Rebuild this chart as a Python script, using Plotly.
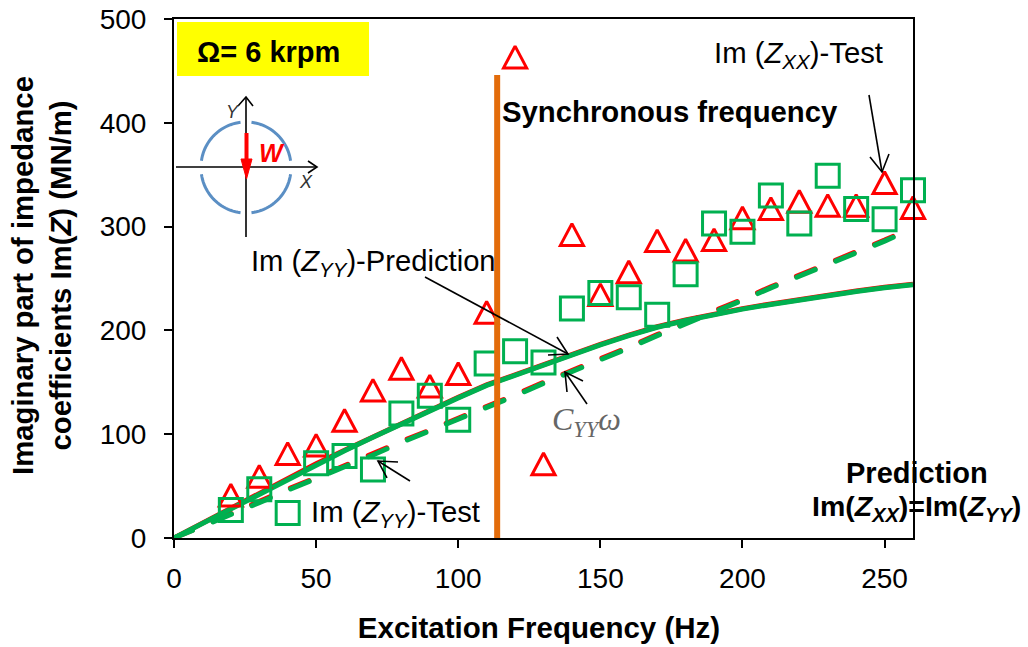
import numpy as np
import plotly.graph_objects as go

W, H = 1028, 647
L, R, T, B = 174, 913, 19, 538

freq = list(range(20, 261, 10))
zxx_test = [40, 58, 80, 88, 112, 141, 162, 145, 157, 216, 462, 70, 291, 233, 255, 285, 276, 286, 307, 316, 323, 319, 319, 341, 317]
zyy_test = [27, 47, 24, 72, 79, 66, 120, 137, 114, 168, 180, 169, 221, 236, 232, 215, 254, 303, 295, 330, 303, 349, 317, 307, 335]
freq_line = list(range(0, 261, 10))
pred_yy = [0, 14, 28, 42, 57, 71, 84, 97, 110, 123, 135, 147, 157, 167, 177, 186, 195, 203, 209.5, 215.5, 220.5, 225, 229.5, 233.5, 237.5, 241, 244]
pred_xx = [0, 14.5, 28.5, 42.5, 57.5, 71.5, 84.5, 97.5, 110.5, 123.5, 135.5, 147.5, 157.5, 167.5, 177.5, 186.5, 195.5, 203.5, 210, 216, 221, 225.5, 230, 234, 238, 241.5, 244.5]
c_yy = [0, 11, 23, 34, 46, 57, 69, 80, 92, 103, 114, 126, 137, 149, 160, 172, 183, 195, 206, 218, 229, 241, 252, 263, 275, 286, 298]
c_xx = [0, 12, 24, 35, 47, 58, 70, 81, 93, 104, 115, 127, 138, 150, 161, 173, 184, 196, 207, 219, 230, 242, 253, 264, 276, 287, 299]
sync_x = [113.7, 113.7]
sync_y = [-8, 446]
x_ticks = [0, 50, 100, 150, 200, 250]
y_ticks = [0, 100, 200, 300, 400, 500]

RED, GREEN, ORANGE, BLUE = "#ff0000", "#00b050", "#e36c0a", "#5b8fc4"
FONT = "Liberation Sans"
PW, PH = R - L, B - T
DASH = "20px,22.2px"


def px(x):
    return (x - L) / PW


def py(y):
    return (B - y) / PH


def poly(points, color="#000000", width=1.6, fill=None):
    path = "M " + " L ".join(f"{px(a):.5f} {py(b):.5f}" for a, b in points)
    if fill:
        path += " Z"
    return dict(type="path", xref="paper", yref="paper", path=path, layer="above",
                line=dict(color=color, width=width), fillcolor=fill)


def arrow(tail, tip, barb1, barb2):
    return [poly([tail, tip]), poly([barb1, tip, barb2])]


def arc(a0, a1, cx=246, cy=167, r=45):
    t = np.radians(np.linspace(a0, a1, 24))
    return poly(list(zip(cx + r * np.cos(t), cy - r * np.sin(t))), color=BLUE, width=3)


fig = go.Figure()
fig.add_trace(go.Scatter(x=freq_line, y=c_xx, mode="lines", line=dict(color=RED, width=5, dash=DASH), name="Cxx"))
fig.add_trace(go.Scatter(x=freq_line, y=pred_xx, mode="lines", line=dict(color=RED, width=5), name="Prediction XX"))
fig.add_trace(go.Scatter(x=freq_line, y=c_yy, mode="lines", line=dict(color=GREEN, width=5, dash=DASH), name="Cyy"))
fig.add_trace(go.Scatter(x=freq_line, y=pred_yy, mode="lines", line=dict(color=GREEN, width=5), name="Prediction YY"))
fig.add_trace(go.Scatter(x=freq, y=zxx_test, mode="markers", cliponaxis=False, name="Test XX",
                         marker=dict(symbol="triangle-up-open", size=20, color=RED, line=dict(color=RED, width=3))))
fig.add_trace(go.Scatter(x=freq, y=zyy_test, mode="markers", cliponaxis=False, name="Test YY",
                         marker=dict(symbol="square-open", size=23, color=GREEN, line=dict(color=GREEN, width=3))))
fig.add_trace(go.Scatter(x=sync_x, y=sync_y, mode="lines", cliponaxis=False, line=dict(color=ORANGE, width=6), name="Synchronous"))

shapes = [dict(type="rect", xref="paper", yref="paper", x0=px(177), x1=px(369), y0=py(76), y1=py(22),
               fillcolor="#ffff00", line=dict(width=0), layer="above")]
shapes += arrow((869, 95), (882, 172), (870, 157), (889, 154))
shapes += arrow((425, 277), (568, 354), (557, 337), (548, 355))
shapes += arrow((587, 404), (565, 372), (583, 381), (567, 392))
shapes += arrow((410, 481), (378, 461), (398, 462), (387, 478))
shapes += [arc(97, 172), arc(8, 83), arc(-172, -97, cy=168), arc(-83, -8, cy=168)]
shapes += arrow((246, 237), (246, 97), (238, 106), (253, 106))
shapes += arrow((176, 167), (317, 167), (308, 161), (308, 173))
shapes += [poly([(246.5, 133), (246.5, 160)], color=RED, width=4),
           poly([(241, 159), (252, 159), (246.5, 179)], color=RED, width=1, fill=RED)]


def note(x, y, text, size=29, color="#000000", anchor="left", family=FONT):
    return dict(xref="paper", yref="paper", x=px(x), y=py(y), text=text, showarrow=False, xanchor=anchor,
                yanchor="middle", align="center", font=dict(family=family, size=size, color=color))


annotations = [
    note(195, 52, "<b>Ω= 6 krpm</b>", 29),
    note(500, 112, "<b>Synchronous frequency</b>", 29.3),
    note(712, 55, "Im (<i>Z<sub>XX</sub></i>)-Test", 29.3),
    note(249, 263, "Im (<i>Z<sub>YY</sub></i>)-Prediction", 29.2),
    note(309, 513, "Im (<i>Z<sub>YY</sub></i>)-Test", 29.3),
    note(917, 473, "<b>Prediction</b>", 29, anchor="center"),
    note(810, 508, "<b>Im(<i>Z<sub>XX</sub></i>)=Im(<i>Z<sub>YY</sub></i>)</b>", 28.5),
    note(550, 421, "<i>C<sub>YY</sub>ω</i>", 32, color="#666666", family="Liberation Serif"),
    note(233, 112, "<i>Y</i>", 18, color="#333333", anchor="center"),
    note(306, 182, "<i>X</i>", 18, color="#333333", anchor="center"),
    note(272, 153, "<b><i>W</i></b>", 25, color=RED, anchor="center"),
]

axis = dict(showgrid=False, zeroline=False, showline=True, mirror=True, linecolor="#000000", linewidth=2,
            ticks="outside", ticklen=8, tickwidth=1.5, tickcolor="#000000", automargin=False,
            ticklabeloverflow="allow", tickfont=dict(family=FONT, size=28, color="#000000"))
fig.update_layout(
    width=W, height=H, margin=dict(l=L, r=W - R, t=T, b=H - B), showlegend=False,
    plot_bgcolor="#ffffff", paper_bgcolor="#ffffff", shapes=shapes, annotations=annotations,
    xaxis=dict(axis, range=[0, 260], tickvals=x_ticks, ticklabelstandoff=6,
               title=dict(text="<b>Excitation Frequency (Hz)</b>", standoff=25,
                          font=dict(family=FONT, size=29.5, color="#000000"))),
    yaxis=dict(axis, range=[0, 500], tickvals=y_ticks, ticklabelstandoff=12,
               title=dict(text="<b>Imaginary part of impedance<br>coefficients Im(<i>Z</i>) (MN/m)</b>", standoff=19,
                          font=dict(family=FONT, size=29.3, color="#000000"))),
)
# Page margin off; triangles stretched to the reference's almost equilateral proportions;
# rounded dash ends; axis titles nudged off the centre of the plot as in the reference.
finish = """
document.body.style.margin = '0';
document.querySelectorAll('.scatterlayer .trace:nth-child(5) .points path').forEach(function (p) {
  p.setAttribute('transform', p.getAttribute('transform') + ' translate(0,2.2) scale(1,1.45)');
  p.style.vectorEffect = 'non-scaling-stroke';
});
document.querySelectorAll('.scatterlayer .trace:nth-child(1) path.js-line, .scatterlayer .trace:nth-child(3) path.js-line').forEach(function (p) {
  p.style.strokeLinecap = 'round';
});
var nudge = function (sel, dx, dy) {
  document.querySelectorAll(sel).forEach(function (t) {
    t.setAttribute('transform', 'translate(' + dx + ',' + dy + ') ' + (t.getAttribute('transform') || ''));
  });
};
nudge('.xtitle', -4.5, 0);
nudge('.ytitle', 0, -3);
"""
fig.write_html("out.html", post_script=finish, config=dict(displayModeBar=False))
